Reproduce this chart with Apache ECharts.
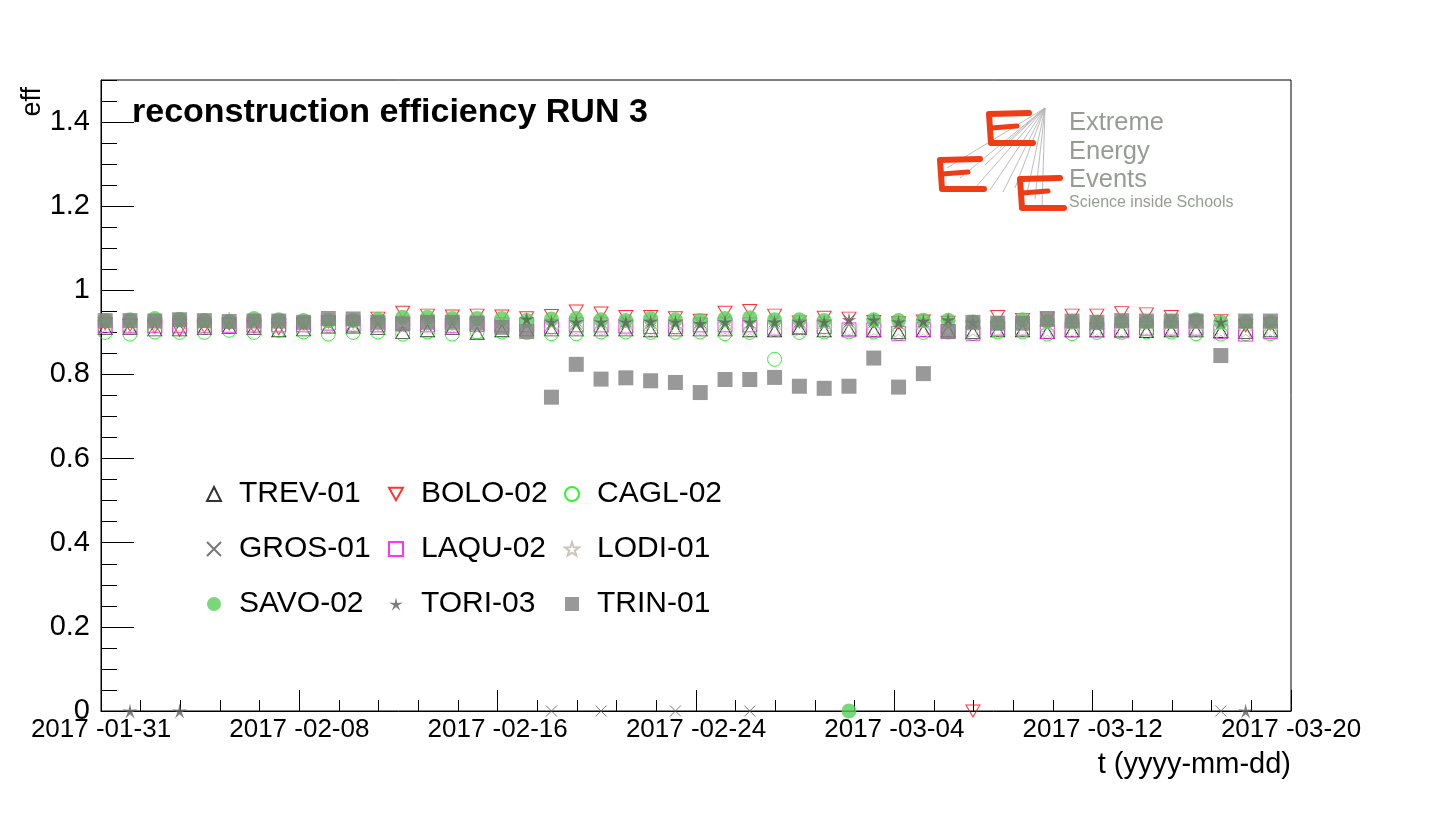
<!DOCTYPE html>
<html><head><meta charset="utf-8">
<script src="https://cdn.jsdelivr.net/npm/echarts@6/dist/echarts.min.js"></script>
<style>html,body{margin:0;padding:0;background:#fff}#c{width:1436px;height:819px}</style>
</head><body><div id="c"></div>
<script>
// ---------- data ----------
const dates = ['2017-01-31','2017-02-01','2017-02-02','2017-02-03','2017-02-04','2017-02-05','2017-02-06','2017-02-07','2017-02-08','2017-02-09',
'2017-02-10','2017-02-11','2017-02-12','2017-02-13','2017-02-14','2017-02-15','2017-02-16','2017-02-17','2017-02-18','2017-02-19',
'2017-02-20','2017-02-21','2017-02-22','2017-02-23','2017-02-24','2017-02-25','2017-02-26','2017-02-27','2017-02-28','2017-03-01',
'2017-03-02','2017-03-03','2017-03-04','2017-03-05','2017-03-06','2017-03-07','2017-03-08','2017-03-09','2017-03-10','2017-03-11',
'2017-03-12','2017-03-13','2017-03-14','2017-03-15','2017-03-16','2017-03-17','2017-03-18','2017-03-19'];

const TREV01 = [0.909,0.910,0.906,0.906,0.909,0.912,0.909,0.904,0.906,0.913,0.913,0.909,0.900,0.904,0.909,0.898,0.904,0.906,0.906,0.906,0.906,0.906,0.904,0.906,0.906,0.906,0.904,0.904,0.909,0.904,0.906,0.904,0.900,0.904,0.904,0.900,0.904,0.904,0.900,0.904,0.904,0.904,0.902,0.904,0.904,0.902,0.900,0.904];
const BOLO02 = [0.921,0.917,0.913,0.905,0.913,0.920,0.913,0.909,0.921,0.925,0.925,0.934,0.948,0.941,0.939,0.941,0.939,0.935,0.940,0.951,0.946,0.938,0.938,0.935,0.929,0.948,0.952,0.941,0.925,0.936,0.934,0.926,0.923,0.927,0.924,0,0.938,0.931,0.935,0.941,0.941,0.947,0.944,0.938,0.925,0.928,0.916,0.920];
const CAGL02 = [0.900,0.896,0.901,0.900,0.900,0.905,0.900,0.905,0.901,0.896,0.900,0.901,0.896,0.901,0.896,0.901,0.901,0.900,0.897,0.897,0.901,0.901,0.900,0.900,0.901,0.897,0.900,0.836,0.900,0.901,0.901,0.901,0.897,0.900,0.901,0.897,0.901,0.901,0.896,0.897,0.900,0.900,0.901,0.901,0.897,0.896,0.897,0.897];
const GROS01 = [null,null,null,null,null,null,null,null,null,null,null,null,null,null,null,null,null,0.928,0,0.927,0,0.926,0.927,0,0.924,0.928,0,0.926,0.925,0.926,0.929,0.928,0.925,0.926,null,null,null,null,null,null,null,null,null,null,null,0,null,null];
const LAQU02 = [0.916,0.916,0.916,0.916,0.916,0.917,0.917,0.918,0.918,0.922,0.919,0.918,0.922,0.918,0.916,0.919,0.918,0.918,0.914,0.918,0.918,0.915,0.914,0.914,0.918,0.918,0.918,0.910,0.914,0.914,0.906,0.906,0.898,0.907,0.902,0.898,0.910,0.910,0.902,0.906,0.906,0.904,0.910,0.910,0.910,0.902,0.896,0.902];
const LODI01 = [0.915,0.914,0.916,0.915,0.913,0.930,0.915,0.914,0.916,0.915,0.917,0.915,0.914,0.916,0.915,0.913,0.914,0.907,0.906,0.908,0.907,0.906,0.905,0.907,0.906,0.908,0.907,0.906,0.907,0.905,0.906,0.907,0.905,0.906,0.905,0.906,0.904,0.905,0.903,0.904,0.905,0.904,0.906,0.905,0.904,0.903,0.905,0.904];
const SAVO02 = [0.928,0.930,0.933,0.931,0.928,0.926,0.933,0.930,0.928,0.928,0.928,0.931,0.936,0.936,0.933,0.933,0.933,0.928,0.932,0.933,0.930,0.928,0.933,0.930,0.928,0.933,0.935,0.930,0.930,0.928,0,0.930,0.928,0.929,0.929,0.925,0.922,0.930,0.926,0.925,0.924,0.926,0.925,0.926,0.930,0.925,0.924,0.924];
const TORI03 = [null,0,null,0,null,null,null,null,null,null,null,null,null,null,null,null,null,0.932,0.925,0.925,0.925,0.925,0.926,0.925,0.921,0.925,0.925,0.925,0.925,0.925,0.930,0.930,0.925,0.927,0.930,0.924,null,null,null,null,null,null,null,null,null,0.925,0,null];
const TRIN01 = [0.928,0.928,0.927,0.930,0.928,0.926,0.927,0.927,0.924,0.933,0.932,0.924,0.920,0.924,0.924,0.922,0.912,0.902,0.746,0.824,0.789,0.792,0.785,0.781,0.757,0.788,0.788,0.793,0.772,0.767,0.772,0.839,0.770,0.802,0.902,0.924,0.922,0.922,0.931,0.927,0.924,0.928,0.927,0.927,0.927,0.845,0.927,0.927];

const axisStart = '2017-01-31';
const axisDays = 48;

// ---------- helpers ----------
const FONT = '"Liberation Sans", Arial, Helvetica, sans-serif';
const DAY = 86400000;
function utc(s){ const p = s.split('-').map(Number); return Date.UTC(p[0], p[1]-1, p[2]); }
const T0 = utc(axisStart);
const POINT_OFFSET = 0.17; // points sit a few hours after midnight
function pts(arr){ const out=[]; arr.forEach((v,i)=>{ if(v!==null) out.push([(utc(dates[i])-T0)/DAY + POINT_OFFSET, v]); }); return out; }
function fmt(v){ const d=new Date(T0+Math.round(v)*DAY); return d.getUTCFullYear()+' -'+String(d.getUTCMonth()+1).padStart(2,'0')+'-'+String(d.getUTCDate()).padStart(2,'0'); }

const STAR = 'path://M10,0L12.35,6.76L19.51,6.91L13.8,11.24L15.88,18.09L10,14L4.12,18.09L6.2,11.24L0.49,6.91L7.65,6.76Z';
const STAR_THIN = 'path://M10,0L11.76,7.57L19.51,6.91L12.85,10.93L15.88,18.09L10,13L4.12,18.09L7.15,10.93L0.49,6.91L8.24,7.57Z';
const XMARK = 'path://M0,0L10,10M10,0L0,10';
const DOWNTRI = 'path://M0,0L10,0L5,9Z';
const NONE = 'rgba(0,0,0,0)';

function sc(name, data, symbol, size, itemStyle){
  return {name, type:'scatter', data:pts(data), symbol, symbolSize:size, itemStyle, silent:true, animation:false, xAxisIndex:0, yAxisIndex:0};
}

function legendCol(left, names){
  return {orient:'vertical', left, top:479, padding:0, data:names, itemWidth:14, itemHeight:14, itemGap:25, selectedMode:false,
    textStyle:{fontSize:30, lineHeight:30, color:'#000', fontFamily:FONT, padding:[0,0,0,13]}};
}

// logo decoration
const apex = [1045,108];
const rayEnds = [[947,168],[960,178],[975,188],[990,190],[1003,192],[1015,188],[1027,193],[1035,199],[1042,206],[1000,148],[985,165]];
const logo = [];
rayEnds.forEach(e=>logo.push({type:'line', shape:{x1:apex[0],y1:apex[1],x2:e[0],y2:e[1]}, style:{stroke:'#b4b4b4', lineWidth:0.9}}));
function E(x,y){ // brush-like E
  const red='#f03c14';
  return [
    {type:'polyline', shape:{points:[[x+40,y-1],[x,y],[x+2,y+29],[x+44,y+29]]}, style:{stroke:red, lineWidth:6, lineCap:'round', lineJoin:'round', fill:null}},
    {type:'polyline', shape:{points:[[x+2,y+14],[x+28,y+12]]}, style:{stroke:red, lineWidth:5, lineCap:'round', fill:null}}
  ];
}
logo.push(...E(989,114), ...E(940,160), ...E(1020,179));
const grey = '#969c95';
logo.push(
  {type:'text', x:1069, y:123, style:{text:'Extreme', font:'25.5px '+FONT, fill:grey, align:'left', verticalAlign:'middle'}},
  {type:'text', x:1069, y:152, style:{text:'Energy', font:'25.5px '+FONT, fill:grey, align:'left', verticalAlign:'middle'}},
  {type:'text', x:1069, y:180, style:{text:'Events', font:'25.5px '+FONT, fill:grey, align:'left', verticalAlign:'middle'}},
  {type:'text', x:1069, y:203, style:{text:'Science inside Schools', font:'16px '+FONT, fill:grey, align:'left', verticalAlign:'middle'}}
);

const chart = echarts.init(document.getElementById('c'), null, {renderer:'canvas'});
chart.setOption({
  animation:false,
  backgroundColor:'#fff',
  textStyle:{fontFamily:FONT},
  grid:{left:101, right:145, top:80, bottom:108, show:true, borderColor:'#000', borderWidth:1, backgroundColor:'rgba(0,0,0,0)'},
  xAxis:[
    {type:'value', min:0, max:axisDays, interval:8, position:'bottom',
     axisLine:{show:true, lineStyle:{color:'#000', width:1}},
     axisTick:{show:true, inside:true, length:21, lineStyle:{color:'#000'}},
     axisLabel:{formatter:fmt, fontSize:26, color:'#000', margin:6, fontFamily:FONT, showMinLabel:true, showMaxLabel:true},
     splitLine:{show:false}},
    {type:'value', min:0, max:axisDays, interval:1.6, position:'bottom',
     axisLine:{show:false}, axisTick:{show:true, inside:true, length:11, lineStyle:{color:'#000'}},
     axisLabel:{show:false}, splitLine:{show:false}}
  ],
  yAxis:[
    {type:'value', min:0, max:1.5, interval:0.2, position:'left',
     axisLine:{show:true, lineStyle:{color:'#000', width:1}},
     axisTick:{show:true, inside:true, length:33, lineStyle:{color:'#000'}},
     axisLabel:{fontSize:29, color:'#000', margin:11, fontFamily:FONT, showMaxLabel:false},
     splitLine:{show:false}},
    {type:'value', min:0, max:1.5, interval:0.05, position:'left',
     axisLine:{show:false}, axisTick:{show:true, inside:true, length:16, lineStyle:{color:'#000'}},
     axisLabel:{show:false}, splitLine:{show:false}}
  ],
  legend:[
    legendCol(206, ['TREV-01','GROS-01','SAVO-02']),
    legendCol(388, ['BOLO-02','LAQU-02','TORI-03']),
    legendCol(564, ['CAGL-02','LODI-01','TRIN-01'])
  ],
  graphic:[
    {type:'text', x:132, y:113, style:{text:'reconstruction efficiency RUN 3', font:'bold 34px '+FONT, fill:'#000', align:'left', verticalAlign:'middle'}},
    {type:'text', x:33, y:87, rotation:Math.PI/2, style:{text:'eff', font:'27px '+FONT, fill:'#000', align:'right', verticalAlign:'middle'}},
    {type:'text', x:1291, y:765, style:{text:'t (yyyy-mm-dd)', font:'29px '+FONT, fill:'#000', align:'right', verticalAlign:'middle'}},
    ...logo
  ],
  series:[
    sc('TREV-01', TREV01, 'triangle', [14,12], {color:NONE, borderColor:'#000', borderWidth:1}),
    sc('BOLO-02', BOLO02, DOWNTRI, [14,12], {color:NONE, borderColor:'#ff0000', borderWidth:1}),
    sc('CAGL-02', CAGL02, 'circle', 14, {color:NONE, borderColor:'#00ee00', borderWidth:1}),
    sc('GROS-01', GROS01, XMARK, 11, {color:NONE, borderColor:'#555', borderWidth:1}),
    sc('LAQU-02', LAQU02, 'rect', 14, {color:NONE, borderColor:'#ff00ff', borderWidth:1}),
    sc('LODI-01', LODI01, STAR, 15, {color:NONE, borderColor:'#c0b6ab', borderWidth:1}),
    sc('SAVO-02', SAVO02, 'circle', 15, {color:'#58d058'}),
    sc('TORI-03', TORI03, STAR_THIN, 15, {color:'#5e5e5e'}),
    sc('TRIN-01', TRIN01, 'rect', 15, {color:'#808080'})
  ]
});
</script></body></html>
